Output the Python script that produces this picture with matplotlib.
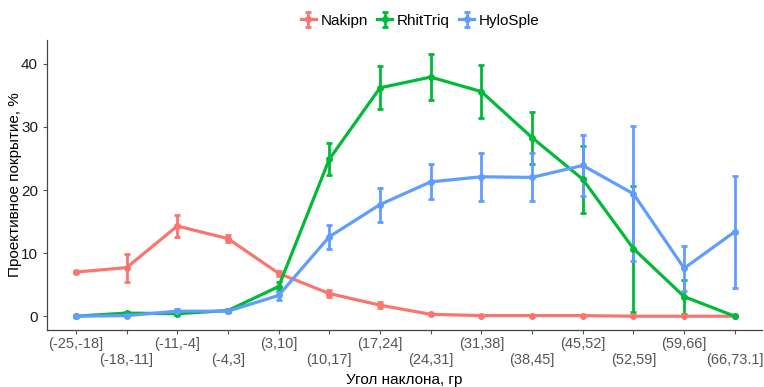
import matplotlib.pyplot as plt
import numpy as np

categories = ['(-25,-18]', '(-18,-11]', '(-11,-4]', '(-4,3]', '(3,10]', '(10,17]', '(17,24]',
              '(24,31]', '(31,38]', '(38,45]', '(45,52]', '(52,59]', '(59,66]', '(66,73.1]']

nakipn = [7.0, 7.7, 14.3, 12.3, 6.8, 3.6, 1.75, 0.3, 0.1, 0.1, 0.1, 0.0, 0.0, 0.0]
nakipn_err = [0.2, 2.2, 1.7, 0.6, 0.4, 0.6, 0.45, 0.1, 0.05, 0.05, 0.05, 0.0, 0.0, 0.0]

rhittriq = [0.0, 0.5, 0.4, 0.9, 4.7, 24.9, 36.2, 37.9, 35.6, 28.3, 21.7, 10.7, 3.1, 0.0]
rhittriq_err = [0.1, 0.2, 0.2, 0.3, 0.7, 2.5, 3.4, 3.7, 4.2, 4.1, 5.3, 10.0, 2.7, 0.0]

hylosple = [0.0, 0.1, 0.8, 0.8, 3.3, 12.6, 17.7, 21.3, 22.1, 22.0, 23.9, 19.4, 7.6, 13.4]
hylosple_err = [0.1, 0.1, 0.3, 0.2, 0.7, 1.9, 2.7, 2.8, 3.8, 3.8, 4.8, 10.7, 3.6, 8.9]

series = [('Nakipn', nakipn, nakipn_err, '#F8766D'),
          ('RhitTriq', rhittriq, rhittriq_err, '#00BA38'),
          ('HyloSple', hylosple, hylosple_err, '#619CFF')]

plt.rcParams['font.family'] = ['Liberation Sans', 'DejaVu Sans']

fig = plt.figure(figsize=(7.64, 3.87), dpi=100)
ax = fig.add_axes([0.0615, 0.147, 0.9355, 0.75])

x = np.arange(1, len(categories) + 1)
for name, vals, err, color in series:
    ax.errorbar(x, vals, yerr=err, color=color, linewidth=2.3, elinewidth=2.0,
                capsize=2, capthick=2.0, marker='o', markersize=4, label=name)

ax.set_xlim(0.43, 14.53)
ax.set_ylim(-2.2, 43.8)
ax.set_yticks([0, 10, 20, 30, 40])

# every second label goes on the lower row
labels = [c if i % 2 == 0 else '\n' + c for i, c in enumerate(categories)]
ax.set_xticks(x)
ax.set_xticklabels(labels, fontsize=10.5, color='#1a1a1a', linespacing=1.15)
ax.tick_params(axis='y', labelsize=11, colors='#555555', labelcolor='#1a1a1a')
ax.tick_params(axis='x', colors='#555555', pad=2)
ax.tick_params(length=3, width=0.8)

for side in ['top', 'right']:
    ax.spines[side].set_visible(False)
for side in ['left', 'bottom']:
    ax.spines[side].set_color('#444444')
    ax.spines[side].set_linewidth(0.9)

ax.set_xlabel('Угол наклона, гр', fontsize=11, labelpad=4.5)
ax.set_ylabel('Проективное покрытие, %', fontsize=11, labelpad=-1)

fig.legend(loc='upper center', bbox_to_anchor=(0.55, 1.0), ncol=3, frameon=False,
           fontsize=11, handlelength=1.0, handletextpad=0.3, columnspacing=0.6)

fig.savefig('out.png', dpi=100)
